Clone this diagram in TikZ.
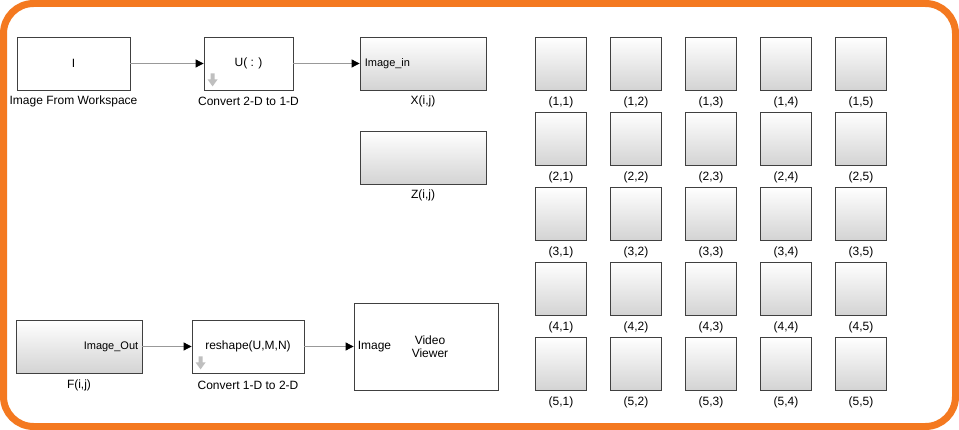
\documentclass[tikz,border=0pt]{standalone}
\usepackage{fontspec}
\setmainfont{Liberation Sans}
\usetikzlibrary{arrows.meta,shadows}
\definecolor{frameorange}{RGB}{244,121,32}
\tikzset{
  x=1pt, y=-1pt,
  blk/.style={draw=black!75, line width=0.8pt, fill=white, rectangle, inner sep=0pt,
    drop shadow={shadow xshift=1.2pt, shadow yshift=-1.2pt, opacity=0.45, fill=black!45},
    font=\fontsize{12}{14}\selectfont},
  shd/.style={blk, top color=white, middle color=white, bottom color=black!17},
  captxt/.style={font=\fontsize{12}{14}\selectfont, inner sep=0pt},
  port/.style={font=\fontsize{11}{13}\selectfont, inner sep=0pt},
  conn/.style={draw=black!40, line width=0.8pt, -{Triangle[length=8pt,width=8pt,color=black]}},
  icon/.style={fill=black!25, draw=none}
}
\newcommand{\downicon}[1]{%
  \fill[icon] ([xshift=7pt,yshift=17pt]#1) -- ++(4pt,0) -- ++(0,-6pt) -- ++(3pt,0)
     -- ++(-5pt,-7pt) -- ++(-5pt,7pt) -- ++(3pt,0) -- cycle;}
\begin{document}
\begin{tikzpicture}
\useasboundingbox (0,0) rectangle (959,430);
\fill[white] (0,0) rectangle (959,430);
\draw[frameorange, line width=7pt, rounded corners=30pt] (3.5,3.5) rectangle (955.5,426.5);

% top row
\node[blk, minimum width=113pt, minimum height=53pt] (iw) at (73.5,63.5) {I};
\node[captxt] at ([yshift=-11pt]iw.south) {Image From Workspace};
\node[blk, minimum width=89pt, minimum height=53pt] (u) at (248.5,63.5) {U( : )};
\node[captxt] at ([yshift=-11pt]u.south) {Convert 2-D to 1-D};
\downicon{u.south west}
\node[shd, minimum width=126pt, minimum height=53pt] (x) at (423,63.5) {};
\node[port, anchor=west] (xin) at ([xshift=5pt]x.west) {Image\_in};
\node[captxt] at ([yshift=-11pt]x.south) {X(i,j)};
\node[shd, minimum width=126pt, minimum height=53pt] (z) at (423,157.5) {};
\node[captxt] at ([yshift=-11pt]z.south) {Z(i,j)};

\draw[conn] (iw.east) -- (u.west);
\draw[conn] (u.east) -- (x.west);

% bottom row
\node[shd, minimum width=126pt, minimum height=53pt] (f) at (79,346.5) {};
\node[port, anchor=east] (fout) at ([xshift=-4pt]f.east) {Image\_Out};
\node[captxt] at ([yshift=-12pt]f.south) {F(i,j)};
\node[blk, minimum width=112pt, minimum height=53pt] (r) at (248,346.5) {reshape(U,M,N)};
\node[captxt] at ([yshift=-12pt]r.south) {Convert 1-D to 2-D};
\downicon{r.south west}
\node[blk, minimum width=144pt, minimum height=87pt] (v) at (426,346.5) {};
\node[port, anchor=west, font=\fontsize{12}{14}\selectfont] (vin) at ([xshift=4pt]v.west) {Image};
\node[captxt, align=center, font=\fontsize{12}{13.5}\selectfont] (vt) at (430,346.5) {Video\\Viewer};

\draw[conn] (f.east) -- (r.west);
\draw[conn] (r.east) -- (v.west);

% grid
\foreach \r in {1,...,5}{
  \foreach \c in {1,...,5}{
    \node[shd, minimum width=50.5pt, minimum height=53pt] (g\r\c) at ({561+75*(\c-1)},{63.5+75*(\r-1)}) {};
    \node[captxt] at ([yshift=-12pt]g\r\c.south) {(\r,\c)};
  }
}
\end{tikzpicture}
\end{document}
